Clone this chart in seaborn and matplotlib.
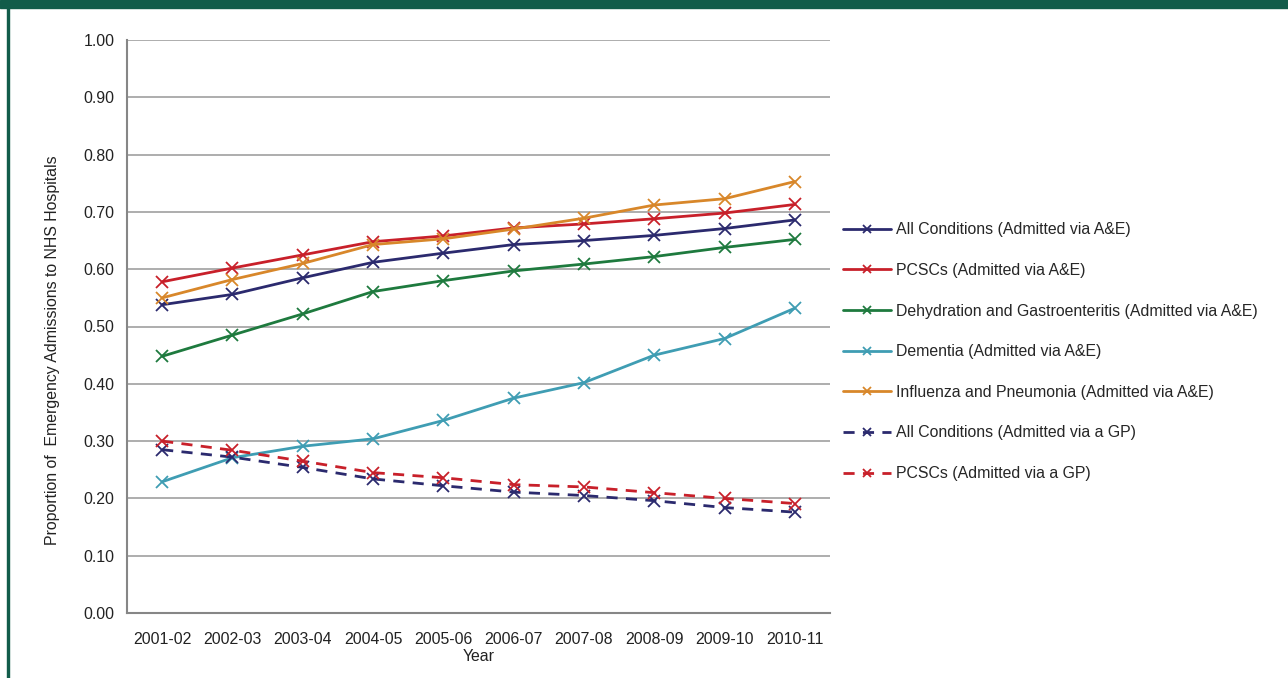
import matplotlib
matplotlib.use("Agg")
import matplotlib.pyplot as plt
import matplotlib.patches as mpatches
import seaborn as sns
import pandas as pd

# Data
years = ["2001-02", "2002-03", "2003-04", "2004-05", "2005-06",
         "2006-07", "2007-08", "2008-09", "2009-10", "2010-11"]

all_ae = [0.538, 0.556, 0.585, 0.612, 0.628, 0.643, 0.650, 0.659, 0.671, 0.686]
pcsc_ae = [0.578, 0.602, 0.625, 0.648, 0.658, 0.672, 0.679, 0.688, 0.698, 0.713]
dehyd_ae = [0.448, 0.485, 0.522, 0.561, 0.580, 0.597, 0.609, 0.622, 0.638, 0.652]
dementia_ae = [0.229, 0.271, 0.291, 0.304, 0.336, 0.375, 0.402, 0.450, 0.479, 0.532]
flu_ae = [0.550, 0.582, 0.610, 0.643, 0.653, 0.670, 0.689, 0.712, 0.723, 0.753]
all_gp = [0.285, 0.272, 0.254, 0.234, 0.222, 0.211, 0.205, 0.196, 0.184, 0.176]
pcsc_gp = [0.300, 0.284, 0.265, 0.245, 0.236, 0.224, 0.220, 0.210, 0.200, 0.191]

series = [
    ("All Conditions (Admitted via A&E)", all_ae, "#2b2a6e", "-"),
    ("PCSCs (Admitted via A&E)", pcsc_ae, "#c8202a", "-"),
    ("Dehydration and Gastroenteritis (Admitted via A&E)", dehyd_ae, "#1e7a3e", "-"),
    ("Dementia (Admitted via A&E)", dementia_ae, "#3f9db3", "-"),
    ("Influenza and Pneumonia (Admitted via A&E)", flu_ae, "#d8872a", "-"),
    ("All Conditions (Admitted via a GP)", all_gp, "#2b2a6e", (0, (4, 3))),
    ("PCSCs (Admitted via a GP)", pcsc_gp, "#c8202a", (0, (4, 3))),
]

sns.set_style("white")
plt.rcParams["font.family"] = ["Liberation Sans", "DejaVu Sans"]
fs = 11.4
txt = "#222222"

fig = plt.figure(figsize=(12.88, 6.78), dpi=100)
ax = fig.add_axes([127 / 1288, 1 - 613 / 678, 703 / 1288, 573 / 678])

x = list(range(len(years)))
for name, vals, color, ls in series:
    df = pd.DataFrame({"x": x, "y": vals})
    sns.lineplot(data=df, x="x", y="y", ax=ax, color=color, linestyle=ls,
                 linewidth=2, marker="x", markersize=8, markeredgewidth=1.3,
                 markeredgecolor=color, label=name)

ax.set_xlim(-0.5, len(years) - 0.5)
ax.set_ylim(0, 1.0)
ax.set_xticks(x)
ax.set_xticklabels(years, fontsize=fs, color=txt)
yt = [i / 10 for i in range(11)]
ax.set_yticks(yt)
ax.set_yticklabels([f"{v:.2f}" for v in yt], fontsize=fs, color=txt)
ax.yaxis.grid(True, color="#a0a0a0", linewidth=1.2)
ax.set_axisbelow(True)
for s in ["top", "right"]:
    ax.spines[s].set_visible(False)
for s in ["left", "bottom"]:
    ax.spines[s].set_color("#868686")
    ax.spines[s].set_linewidth(1.5)
ax.tick_params(axis="both", which="major", direction="out", length=4,
               color="#868686", width=1)
ax.tick_params(axis="x", pad=10)
ax.tick_params(axis="y", pad=5)
ax.set_xlabel("Year", fontsize=fs, color=txt, labelpad=1)
ax.set_ylabel("Proportion of  Emergency Admissions to NHS Hospitals",
              fontsize=fs, color=txt)
ax.yaxis.set_label_coords(-0.095, 0.459)

ax.legend(loc="upper left", bbox_to_anchor=(1.01, 0.693), frameon=False,
          fontsize=fs, labelspacing=1.62, handlelength=3.0,
          handletextpad=0.3, borderaxespad=0, markerscale=0.8)

# Green frame of the figure
fig.patches.append(mpatches.Rectangle((0, 1 - 8 / 678), 1, 8 / 678,
                                      transform=fig.transFigure,
                                      color="#125c4a", zorder=10))
fig.patches.append(mpatches.Rectangle((7 / 1288, 0), 2 / 1288, 1,
                                      transform=fig.transFigure,
                                      color="#125c4a", zorder=10))

fig.savefig("out.png", dpi=100)
